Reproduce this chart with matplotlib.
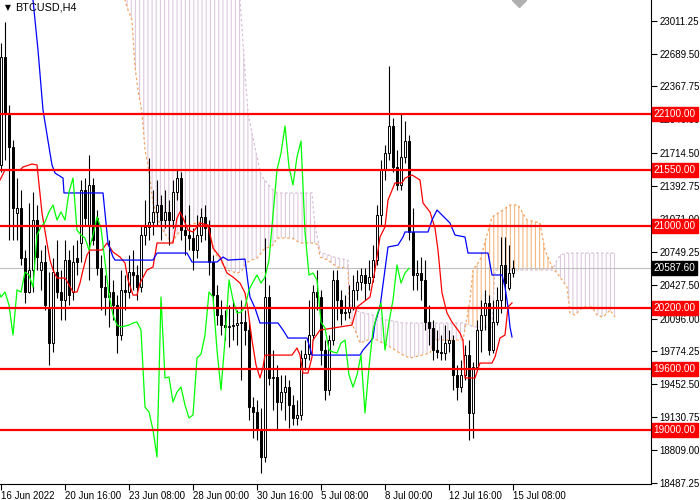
import numpy as np
import matplotlib
matplotlib.use('Agg')
import matplotlib.pyplot as plt

plt.rcParams['font.family'] = ['Liberation Sans', 'DejaVu Sans']
plt.rcParams['hatch.linewidth'] = 0.8

# Nến H4 BTCUSD (16 Jun 2022 00:00 -> 15 Jul 2022 08:00)
opens = [21599, 22656, 22088, 21775, 21129, 21178, 20688, 20355, 20571, 21060,
         20571, 20649, 20208, 19856, 20551, 20355, 20277, 20668, 20355, 20688,
         20835, 21354, 21011, 21403, 21080, 20590, 20404, 20306, 20355, 20228,
         19934, 20375, 20355, 20551, 20522, 20404, 20913, 20992, 21041, 21139,
         21207, 21060, 21139, 21060, 21334, 21471, 20962, 20913, 20884, 20766,
         20913, 21090, 20982, 20649, 20326, 20130, 20032, 20013, 20023, 20032,
         20052, 20062, 19983, 19229, 19181, 19004, 18740, 20306, 19514, 19523,
         19278, 19376, 19425, 19249, 19122, 19151, 19709, 19748, 19934, 20355,
         20306, 19787, 19396, 19885, 20473, 20277, 20150, 20159, 20208, 20375,
         20453, 20522, 20443, 20502, 20668, 21109, 21550, 21716, 21980, 21579,
         21403, 21677, 21834, 20943, 20522, 20541, 20473, 20062, 20003, 19787,
         19768, 19758, 19856, 19885, 19543, 19425, 19543, 19738, 19171, 19621,
         19983, 20130, 20248, 19787, 20062, 20277, 20620, 20394, 20541]
highs = [22793, 22999, 22186, 21843, 21471, 21354, 20766, 21227, 21334, 21207,
         20766, 20815, 20551, 20688, 20864, 20571, 20864, 20766, 20815, 20864,
         21452, 21471, 21697, 21471, 21158, 20718, 20522, 20864, 20473, 20326,
         20571, 20522, 20718, 20766, 20620, 21011, 21256, 21667, 21354, 21452,
         21305, 21354, 21256, 21452, 21550, 21530, 21109, 21207, 20982, 21109,
         21178, 21207, 21060, 20718, 20424, 20277, 20179, 20228, 20277, 20179,
         20277, 20179, 20081, 19327, 19298, 19220, 20884, 20424, 19787, 19641,
         19543, 19543, 19494, 19347, 19298, 19787, 19885, 20277, 20424, 20571,
         20375, 19885, 19934, 20571, 20571, 20375, 20326, 20424, 20522, 20571,
         20590, 20590, 20668, 20815, 21207, 21648, 21794, 22568, 22059, 21745,
         22108, 22029, 21892, 21178, 20668, 20698, 20668, 20228, 20081, 19983,
         19934, 20032, 19983, 19934, 19641, 19690, 19836, 19885, 19670, 20081,
         20277, 20375, 20326, 20277, 20404, 20894, 20894, 20815, 20668]
lows = [21530, 21648, 20864, 20864, 20864, 20620, 20248, 20346, 20355, 20571,
        20375, 20179, 19641, 19768, 20297, 20081, 20081, 20228, 20277, 20522,
        20649, 21011, 20473, 20815, 20522, 20179, 20130, 20013, 20081, 19758,
        19885, 20179, 20297, 20375, 20277, 20355, 20815, 20864, 20913, 21011,
        20864, 20982, 20815, 20982, 21256, 20864, 20718, 20766, 20571, 20688,
        20845, 20864, 20522, 20228, 20032, 19934, 19885, 19817, 19885, 19836,
        19494, 19836, 19102, 18926, 18906, 18583, 18691, 19445, 19200, 19004,
        19200, 19102, 19024, 19053, 19053, 19102, 19592, 19690, 19885, 20179,
        19641, 19298, 19347, 19836, 20081, 20032, 20081, 20101, 20179, 20277,
        20375, 20277, 20375, 20453, 20620, 21011, 21452, 21648, 21530, 21354,
        21354, 21618, 20864, 20375, 20375, 20277, 19983, 19836, 19690, 19709,
        19690, 19690, 19768, 19396, 19298, 19376, 19494, 18906, 18926, 19592,
        19768, 19983, 19738, 19758, 20032, 20150, 20208, 20375, 20502]
closes = [22656, 22108, 21775, 21178, 21178, 20688, 20355, 20571, 21060, 20698,
          20649, 20228, 19856, 20551, 20355, 20277, 20668, 20326, 20649, 20649,
          21354, 21080, 21403, 20864, 20590, 20404, 20306, 20355, 20228, 19934,
          20375, 20355, 20551, 20522, 20404, 20913, 20992, 21041, 21139, 21207,
          21060, 21139, 21060, 21334, 21471, 20962, 20913, 20884, 20766, 20913,
          21090, 20982, 20649, 20326, 20130, 20032, 20013, 20023, 20032, 20052,
          20062, 19983, 19229, 19181, 19004, 18740, 20306, 19514, 19523, 19278,
          19376, 19425, 19249, 19122, 19151, 19709, 19748, 19934, 20355, 20306,
          19787, 19396, 19885, 20473, 20277, 20150, 20159, 20208, 20375, 20453,
          20522, 20443, 20502, 20668, 21109, 21550, 21716, 21980, 21579, 21403,
          21677, 21834, 20943, 20522, 20541, 20473, 20062, 20003, 19787, 19768,
          19758, 19856, 19885, 19543, 19425, 19543, 19738, 19171, 19621, 19983,
          20130, 20248, 19787, 20062, 20277, 20620, 20443, 20541, 20587.6]

# Tenkan-sen (đỏ) - điểm gãy (vị trí nến, giá)
tenkan_x = [-0.25, 1, 4.75, 5.5, 7.75, 9, 10.25, 11.5, 12.25, 13, 14, 16, 16.75, 18, 19,
            19.75, 20.5, 21.5, 22.25, 25.25, 26.5, 28, 29.75, 31, 31.75, 33, 34, 34.75,
            36.5, 38, 39, 43, 44, 44.75, 45.5, 46.75, 48, 49.75, 51.75, 53, 54.75, 56.5,
            58, 59.75, 61, 61.75, 62.75, 63.75, 64.75, 65.5, 66, 72.75, 74, 74.75, 75.5,
            76.75, 77.75, 78, 79.75, 83, 87.75, 89, 92.25, 93.5, 94.75, 96, 96.75, 98.5,
            100.25, 101, 102.75, 104.75, 105.5, 107.25, 108.5, 109.25, 110.25, 111.5,
            112.75, 114.75, 115.5, 116, 118.5, 119.75, 122.75, 123.5, 124.75, 126,
            126.75, 127.75]
tenkan_y = [21452, 21550, 21550, 21579, 21608, 21599, 21129, 20835, 20668, 20571, 20492,
            20492, 20443, 20355, 20355, 20443, 20571, 20718, 20766, 20766, 20835, 20747,
            20698, 20639, 20473, 20326, 20326, 20443, 20571, 20600, 20835, 20835, 21080,
            21139, 21080, 20962, 20943, 21031, 21011, 20786, 20698, 20541, 20502, 20443,
            20346, 20179, 19885, 19641, 19514, 19621, 19738, 19738, 19807, 19738, 19562,
            19562, 19719, 19885, 19983, 20003, 20032, 20208, 20306, 20571, 20894, 20992,
            21256, 21423, 21423, 21471, 21501, 21452, 21227, 21139, 20982, 20766, 20346,
            20150, 20062, 19954, 19885, 19514, 19514, 19660, 19660, 19719, 19905, 19934,
            20208, 20248]

# Kijun-sen (xanh dương)
kijun_x = [7.25, 8, 9.25, 10.5, 12.25, 12.75, 13.5, 15.5, 15.75, 25.5, 26.75, 28, 28.5,
           38, 39, 46.5, 47.75, 54, 55.5, 56.75, 61, 61.75, 62.25, 63.5, 64.75, 69.25,
           70.5, 71.75, 76.5, 77.75, 89.75, 90.5, 92.25, 93, 93.5, 94.75, 96.75, 99.25,
           100.5, 101, 106.75, 107.75, 109, 111.5, 112.25, 113.5, 116, 116.75, 121.75,
           122.75, 125.25, 126, 126.75, 127.25, 127.75]
kijun_y = [23508, 23214, 22724, 22137, 21716, 21599, 21520, 21471, 21325, 21325, 20835,
           20698, 20668, 20668, 20737, 20737, 20649, 20649, 20698, 20668, 20678, 20443,
           20306, 20199, 20052, 20052, 19983, 19905, 19905, 19738, 19738, 19787, 19866,
           19905, 20052, 20208, 20796, 20815, 20894, 20943, 20943, 21060, 21158, 21060,
           21031, 20913, 20894, 20737, 20737, 20522, 20522, 20404, 20208, 20013, 19915]

# Mây Ichimoku: Senkou Span A / Span B (dịch 26 nến về phía trước)
cloud_x = [29.75, 31, 31.75, 32.75, 33.5, 34.25, 35.25, 36, 36.75, 38, 39.75, 41.5, 42.75,
           45.5, 49.75, 51.75, 53.5, 56.5, 59, 59.75, 60.25, 61, 61.75, 62.75, 64, 64.75,
           65.5, 68, 69, 72.75, 74.75, 77.75, 78.5, 79.25, 79.75, 81.75, 84, 86.75, 87.25,
           88.5, 89.75, 93, 96.5, 100.5, 102.25, 107.25, 108.5, 115.5, 117.25, 118,
           119.75, 122.75, 123.5, 124.75, 127.25, 129.25, 131.5, 134.75, 136, 137.75,
           139.75, 141.5, 142.25, 143.5, 145.5, 147.75, 149, 150.5, 152.25, 153.5]
span_a = [23606, 23214, 23116, 23018, 22558, 22333, 22108, 21746, 21599, 21227, 21011,
          20894, 20845, 20992, 21041, 20992, 20737, 20571, 20541, 20551, 20571, 20620,
          20649, 20668, 20688, 20718, 20766, 20815, 20884, 20884, 20835, 20835, 20835,
          20815, 20698, 20668, 20600, 20590, 20081, 19983, 19856, 19905, 19836, 19738,
          19709, 19758, 19885, 19885, 20277, 20571, 20668, 21090, 21109, 21139, 21207,
          21207, 21060, 21031, 20766, 20600, 20502, 20404, 20150, 20130, 20208, 20208,
          20130, 20110, 20179, 20110]
span_b = [23801, 23801, 23801, 23801, 23801, 23801, 23801, 23801, 23801, 23801, 23801,
          23801, 23801, 23801, 23801, 23801, 23801, 23704, 23312, 23214, 22950, 22499,
          22108, 21912, 21677, 21530, 21471, 21354, 21325, 21325, 21325, 21325, 20992,
          20864, 20747, 20718, 20688, 20668, 20228, 20179, 20159, 20130, 20081, 20052,
          20052, 20052, 20052, 20052, 20032, 20013, 20013, 20013, 20571, 20571, 20571,
          20571, 20571, 20571, 20571, 20571, 20718, 20737, 20737, 20737, 20737, 20737,
          20737, 20737, 20737, 20737]

levels = [22100, 21550, 21000, 20200, 19600, 19000]
last_price = 20587.60
price_ticks = [23011.25, 22689.50, 22367.75, 22046.00, 21714.50, 21392.75, 21071.00,
               20749.25, 20427.50, 20096.00, 19774.25, 19452.50, 19130.75, 18809.00, 18487.25]
date_pos = [0, 16, 32, 48, 64, 80, 96, 112, 128]
date_labels = ['16 Jun 2022', '20 Jun 16:00', '23 Jun 08:00', '28 Jun 00:00', '30 Jun 16:00',
               '5 Jul 08:00', '8 Jul 00:00', '12 Jul 16:00', '15 Jul 08:00']

fig = plt.figure(figsize=(7, 5), dpi=100)
ax = fig.add_axes([0, 16 / 500, 651 / 700, 484 / 500])
ax.set_xlim(-0.25, 162.5)
ax.set_ylim(18476, 23214)

# Mây (nét dọc nhạt)
cx, a, b = np.array(cloud_x), np.array(span_a), np.array(span_b)
ax.fill_between(cx, a, b, where=a >= b, interpolate=True, facecolor='none',
                edgecolor=(0.957, 0.643, 0.376, 0.8), hatch='||||', linewidth=0, zorder=1)
ax.fill_between(cx, a, b, where=a < b, interpolate=True, facecolor='none',
                edgecolor=(0.847, 0.749, 0.847, 0.85), hatch='||||', linewidth=0, zorder=1)
ax.plot(cx, a, color='#F4A460', lw=0.9, ls=(0, (2, 2)), zorder=1.5)
ax.plot(cx, b, color='#D8BFD8', lw=0.9, ls=(0, (2, 2)), zorder=1.5)

# Giá hiện tại
ax.axhline(last_price, color='#C0C0C0', lw=0.8, zorder=1.8)

# Nến
idx = np.arange(len(closes))
o, h, l, c = np.array(opens), np.array(highs), np.array(lows), np.array(closes)
ax.vlines(idx, l, h, color='black', lw=0.8, zorder=3)
up = c >= o
ax.bar(idx[up], (c - o)[up], bottom=o[up], width=0.55, facecolor='white',
       edgecolor='black', lw=0.7, zorder=4)
ax.bar(idx[~up], (o - c)[~up], bottom=c[~up], width=0.55, facecolor='black',
       edgecolor='black', lw=0.7, zorder=4)

# Ichimoku: Tenkan, Kijun, Chikou (giá đóng cửa lùi 26 nến)
ax.plot(tenkan_x, tenkan_y, color='#FF0000', lw=0.9, zorder=5)
ax.plot(kijun_x, kijun_y, color='#0000FF', lw=0.9, zorder=5)
ax.plot(idx - 26, c, color='#00FF00', lw=0.9, zorder=5)

# Mức hỗ trợ / kháng cự
for lv in levels:
    ax.axhline(lv, color='#FF0000', lw=1.6, zorder=6)
    ax.text(1.004, lv, f'{lv:.2f}', transform=ax.get_yaxis_transform(), ha='left',
            va='center', fontsize=7.2, color='white', clip_on=False, zorder=8,
            bbox=dict(boxstyle='square,pad=0.2', fc='#FF0000', ec='#FF0000'))
ax.text(1.004, last_price, f'{last_price:.2f}', transform=ax.get_yaxis_transform(),
        ha='left', va='center', fontsize=7.2, color='white', clip_on=False, zorder=8,
        bbox=dict(boxstyle='square,pad=0.2', fc='black', ec='black'))

# Đánh dấu xám ở mép trên
ax.plot([129.5], [23214], marker='D', color='#B0B0B0', ms=7, zorder=6)

# Trục
ax.yaxis.tick_right()
ax.set_yticks(price_ticks)
ax.set_yticklabels([f'{t:.2f}' for t in price_ticks])
ax.tick_params(axis='y', direction='out', length=4, width=0.8, labelsize=7, pad=2)
ax.set_xticks(date_pos)
ax.set_xticklabels(date_labels, ha='left')
ax.tick_params(axis='x', direction='out', length=4, width=0.8, labelsize=7, pad=1)
for s in ['left', 'top']:
    ax.spines[s].set_visible(False)
for s in ['right', 'bottom']:
    ax.spines[s].set_linewidth(0.8)

fig.text(5 / 700, 1 - 8 / 500, '▼', fontsize=5.5, va='center', ha='left', family='DejaVu Sans')
fig.text(15 / 700, 1 - 8 / 500, 'BTCUSD,H4', fontsize=7.8, va='center', ha='left')

fig.savefig('out.png', dpi=100)
